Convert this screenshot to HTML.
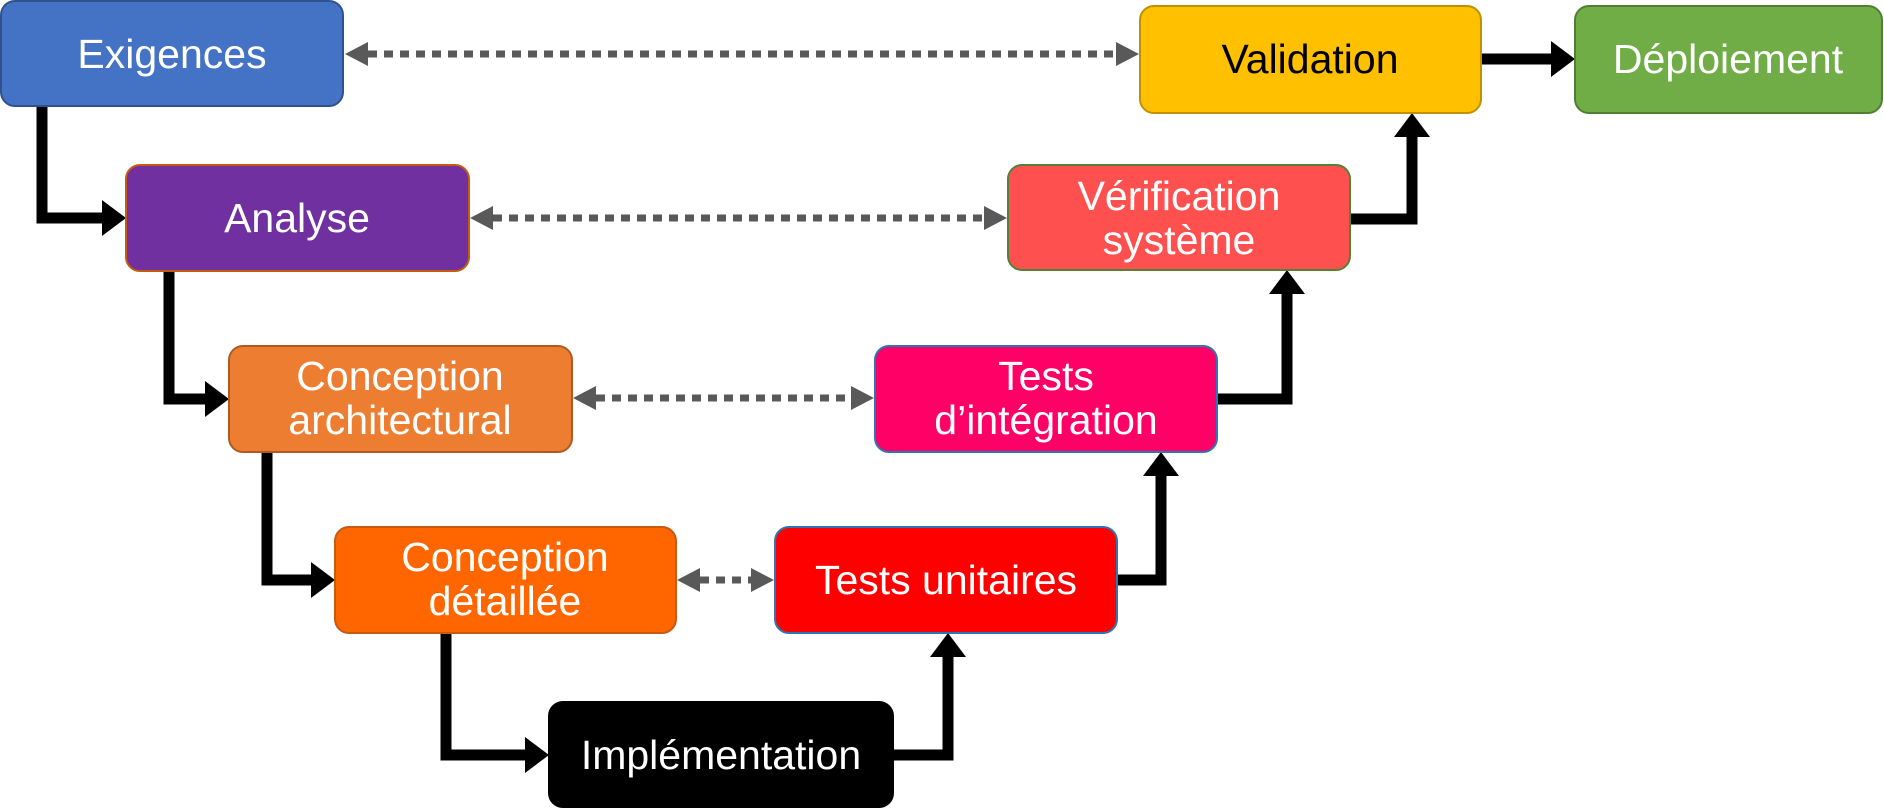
<!DOCTYPE html>
<html><head><meta charset="utf-8"><style>
html,body{margin:0;padding:0;background:#fff;}
svg{display:block}
text{font-family:"Liberation Sans",sans-serif;font-size:41px;text-anchor:middle;dominant-baseline:central}
</style></head><body>
<svg width="1884" height="809" viewBox="0 0 1884 809" xmlns="http://www.w3.org/2000/svg">
<g stroke="#595959" stroke-width="7" stroke-dasharray="9 7" fill="none">
<line x1="368" y1="54" x2="1117" y2="54"/>
<line x1="493" y1="218" x2="985" y2="218"/>
<line x1="596" y1="398" x2="852" y2="398"/>
<line x1="700" y1="580" x2="752" y2="580"/>
</g>
<g fill="#595959">
<polygon points="345,54 368,42 368,66"/><polygon points="1139,54 1116,42 1116,66"/>
<polygon points="470,218 493,206 493,230"/><polygon points="1007,218 984,206 984,230"/>
<polygon points="573,398 596,386 596,410"/><polygon points="874,398 851,386 851,410"/>
<polygon points="677,580 700,568 700,592"/><polygon points="774,580 751,568 751,592"/>
</g>
<g stroke="#000" stroke-width="11" fill="none">
<polyline points="42,106 42,218 104,218"/>
<polyline points="169,271 169,399 207,399"/>
<polyline points="267,452 267,580 313,580"/>
<polyline points="446,633 446,755 527,755"/>
<polyline points="893,755 948,755 948,655"/>
<polyline points="1117,580 1161,580 1161,474"/>
<polyline points="1217,399 1287,399 1287,292"/>
<polyline points="1350,219 1412,219 1412,135"/>
<line x1="1481" y1="59" x2="1553" y2="59"/>
</g>
<g fill="#000">
<polygon points="126,218 102,200 102,236"/>
<polygon points="229,399 205,381 205,417"/>
<polygon points="335,580 311,562 311,598"/>
<polygon points="549,755 525,737 525,773"/>
<polygon points="948,633 930,657 966,657"/>
<polygon points="1161,452 1143,476 1179,476"/>
<polygon points="1287,270 1269,294 1305,294"/>
<polygon points="1412,113 1394,137 1430,137"/>
<polygon points="1575,59 1551,41 1551,77"/>
</g>
<g stroke-width="2">
<rect x="1" y="1" width="342" height="105" rx="14" fill="#4472C4" stroke="#2F528F"/>
<rect x="126" y="165" width="343" height="106" rx="14" fill="#7030A0" stroke="#C55A11"/>
<rect x="229" y="346" width="343" height="106" rx="14" fill="#ED7D31" stroke="#AE5A21"/>
<rect x="335" y="527" width="341" height="106" rx="14" fill="#FF6600" stroke="#C55A11"/>
<rect x="549" y="702" width="344" height="105" rx="14" fill="#000" stroke="#000"/>
<rect x="775" y="527" width="342" height="106" rx="14" fill="#FF0000" stroke="#2E75B6"/>
<rect x="875" y="346" width="342" height="106" rx="14" fill="#FF0066" stroke="#2E75B6"/>
<rect x="1008" y="165" width="342" height="105" rx="14" fill="#FF5050" stroke="#548235"/>
<rect x="1140" y="6" width="341" height="107" rx="14" fill="#FFC000" stroke="#BF9000"/>
<rect x="1575" y="6" width="307" height="107" rx="14" fill="#70AD47" stroke="#507E32"/>
</g>
<g fill="#fff">
<text x="172" y="54">Exigences</text>
<text x="297" y="218">Analyse</text>
<text x="400" y="376">Conception</text>
<text x="400" y="420">architectural</text>
<text x="505" y="557">Conception</text>
<text x="505" y="601">détaillée</text>
<text x="721" y="755">Implémentation</text>
<text x="946" y="580">Tests unitaires</text>
<text x="1046" y="376">Tests</text>
<text x="1046" y="420">d’intégration</text>
<text x="1179" y="196">Vérification</text>
<text x="1179" y="240">système</text>
<text x="1310" y="59" fill="#000">Validation</text>
<text x="1728" y="59">Déploiement</text>
</g>
</svg>
</body></html>
